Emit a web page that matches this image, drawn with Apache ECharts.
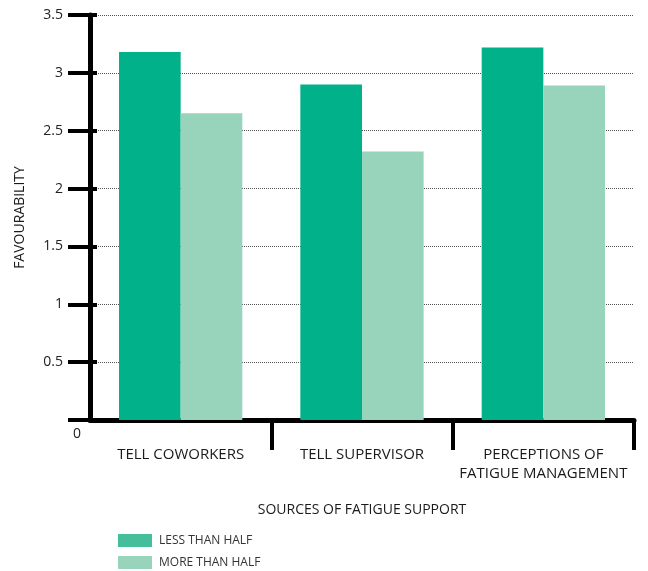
<!DOCTYPE html>
<html>
<head>
<meta charset="utf-8">
<script src="https://cdn.jsdelivr.net/npm/echarts@6/dist/echarts.min.js"></script>
<style>
  html, body { margin: 0; padding: 0; background: #ffffff; }
  #chart { width: 648px; height: 571px; }
</style>
</head>
<body>
<div id="chart"></div>
<script>
// Fatigue support sources by favourability
const categories = ['TELL COWORKERS', 'TELL SUPERVISOR', 'PERCEPTIONS OF\nFATIGUE MANAGEMENT'];
const lessThanHalf = [3.18, 2.90, 3.22];
const moreThanHalf = [2.65, 2.32, 2.89];
const seriesNames = ['LESS THAN HALF', 'MORE THAN HALF'];
const yTicks = [0, 0.5, 1, 1.5, 2, 2.5, 3, 3.5];

const darkGreen = '#00b189';
const lightGreen = '#98d4bc';
const darkSwatch = '#45bf9b';
const fontFamily = '"Open Sans", "Noto Sans", sans-serif';

const chart = echarts.init(document.getElementById('chart'), null, { renderer: 'canvas' });

const yMin = yTicks[0];
const yMax = yTicks[yTicks.length - 1];
const yStep = yTicks[1] - yTicks[0];

// one legend block per series, stacked vertically
function legendFor(name, top, swatch) {
  return {
    left: 118,
    top: top,
    padding: 0,
    itemWidth: 34,
    itemHeight: 13,
    itemGap: 0,
    icon: 'rect',
    selectedMode: false,
    itemStyle: { color: swatch },
    textStyle: { fontSize: 12, color: '#333', fontFamily: fontFamily, padding: [0, 0, 0, 2] },
    data: [name]
  };
}

chart.setOption({
  animation: false,
  textStyle: { fontFamily: fontFamily },
  grid: { left: 90, right: 14, top: 15, bottom: 151 },
  legend: [
    legendFor(seriesNames[0], 534, darkSwatch),
    legendFor(seriesNames[1], 556, lightGreen)
  ],
  xAxis: {
    type: 'category',
    data: categories,
    boundaryGap: true,
    name: 'SOURCES OF FATIGUE SUPPORT',
    nameLocation: 'middle',
    nameGap: 83,
    nameTextStyle: { fontSize: 14, color: '#1a1a1a', fontFamily: fontFamily },
    axisLine: { show: true, lineStyle: { color: '#000', width: 5 } },
    axisTick: {
      show: true,
      length: 30,
      lineStyle: { color: '#000', width: 4 },
      interval: function (index) { return index !== 0; }
    },
    axisLabel: {
      margin: 25,
      fontSize: 15,
      lineHeight: 19,
      color: '#1a1a1a',
      fontFamily: fontFamily,
      interval: 0,
      verticalAlign: 'top'
    },
    splitLine: { show: false }
  },
  yAxis: [
    {
      type: 'value',
      min: yMin,
      max: yMax,
      interval: yStep,
      name: 'FAVOURABILITY',
      nameLocation: 'middle',
      nameGap: 63,
      nameRotate: 90,
      nameTextStyle: { fontSize: 14, color: '#1a1a1a', fontFamily: fontFamily },
      axisLine: { show: true, lineStyle: { color: '#000', width: 5 } },
      axisTick: { show: true, length: 22, lineStyle: { color: '#000', width: 4 } },
      axisLabel: {
        margin: 27,
        fontSize: 14,
        color: '#222',
        fontFamily: fontFamily,
        formatter: function (v) { return v === 0 ? '' : String(v); }
      },
      splitLine: { show: true, lineStyle: { color: '#555', width: 1, type: [1, 1] } }
    },
    {
      // short inner tick stubs on the same scale
      type: 'value',
      position: 'left',
      min: yMin,
      max: yMax,
      interval: yStep,
      axisLine: { show: false },
      axisTick: { show: true, inside: true, length: 7, lineStyle: { color: '#000', width: 4 } },
      axisLabel: { show: false },
      splitLine: { show: false }
    }
  ],
  graphic: [
    {
      type: 'text',
      left: 73,
      top: 427,
      style: { text: String(yMin), fontSize: 14, fill: '#222', fontFamily: fontFamily }
    }
  ],
  series: [
    {
      name: seriesNames[0],
      type: 'bar',
      data: lessThanHalf,
      barGap: '0%',
      barCategoryGap: '32%',
      itemStyle: { color: darkGreen },
      z: 1
    },
    {
      name: seriesNames[1],
      type: 'bar',
      data: moreThanHalf,
      barGap: '0%',
      barCategoryGap: '32%',
      itemStyle: { color: lightGreen },
      z: 1
    }
  ]
});
</script>
</body>
</html>
